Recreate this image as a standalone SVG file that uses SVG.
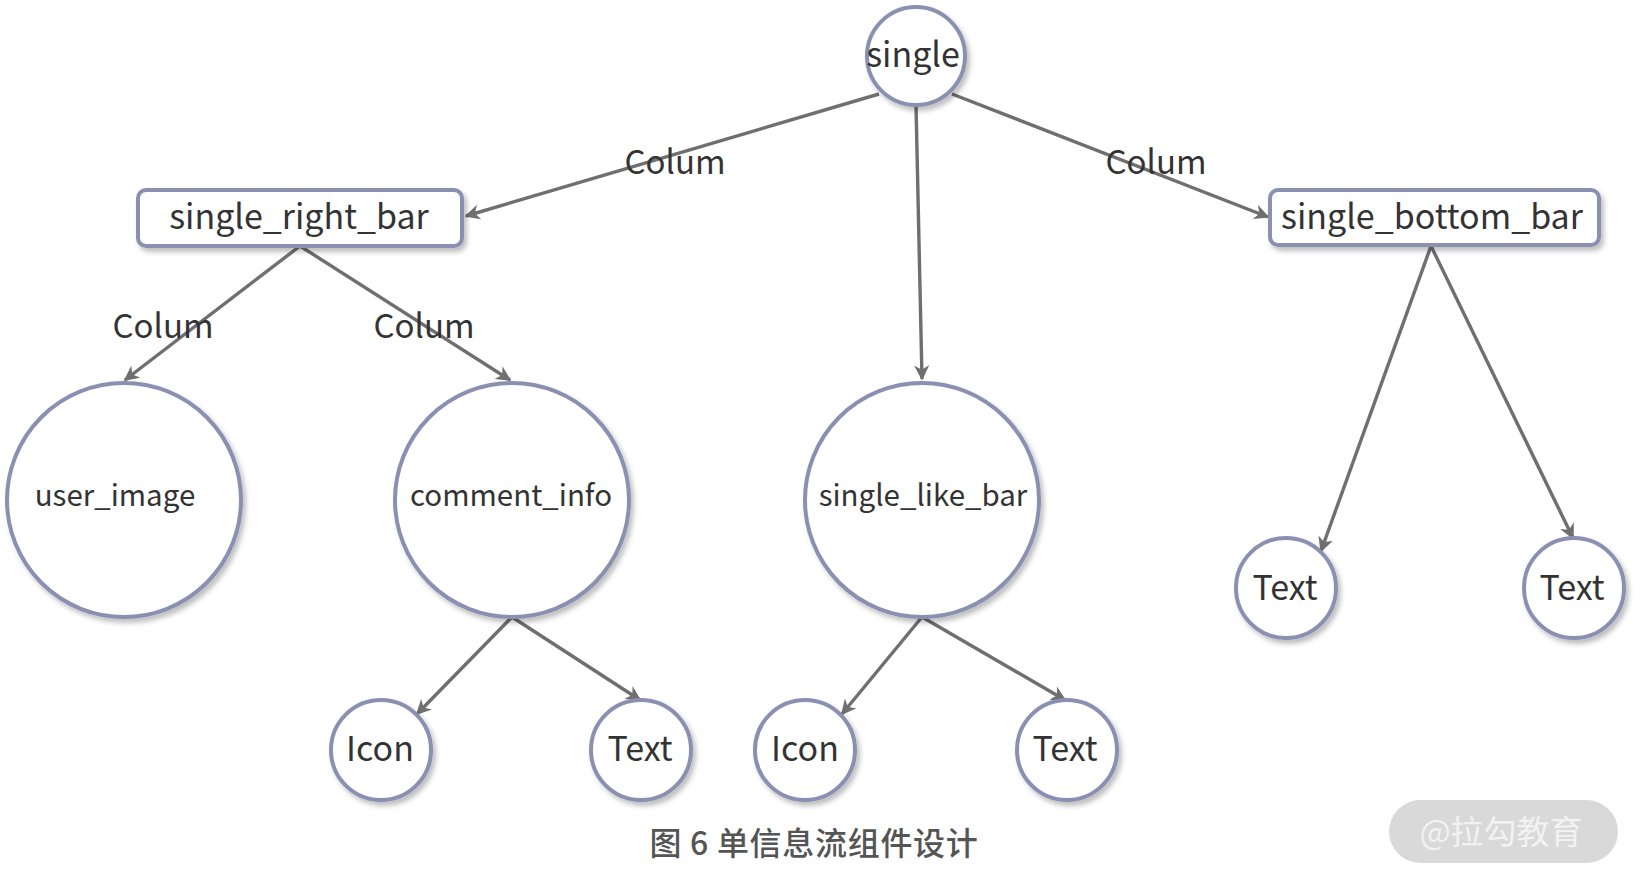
<svg xmlns="http://www.w3.org/2000/svg" width="1640" height="886" viewBox="0 0 1640 886">
<defs>
<style>
.n{fill:#fff;stroke:#8b90b2;stroke-width:4;filter:url(#sh)}
.t{font-family:"Noto Sans CJK SC","Noto Sans",sans-serif;fill:#333;text-anchor:middle;dominant-baseline:central}
.big{font-size:34px}
.mid{font-size:29.5px}
.lbl{font-family:"Noto Sans CJK SC","Noto Sans",sans-serif;fill:#333;font-size:33px;text-anchor:middle}
.e{stroke:#6f6f6f;stroke-width:3.4;fill:none;marker-end:url(#ar)}
</style>
<filter id="sh" x="-20%" y="-20%" width="150%" height="150%">
<feDropShadow dx="3" dy="4" stdDeviation="2.5" flood-color="#000" flood-opacity="0.25"/>
</filter>
<marker id="ar" viewBox="0 0 10 10" refX="9" refY="5" markerWidth="4.5" markerHeight="4.5" orient="auto" markerUnits="strokeWidth">
<path d="M0,0 L10,5 L0,10 L3,5 z" fill="#6f6f6f"/>
</marker>
</defs>
<rect width="1640" height="886" fill="#fff"/>
<g id="connectors">
<line class="e" x1="879" y1="94" x2="466" y2="216"/>
<line class="e" x1="952" y1="94" x2="1268" y2="217"/>
<line class="e" x1="916" y1="105" x2="922" y2="379"/>
<line class="e" x1="300" y1="246" x2="125" y2="380"/>
<line class="e" x1="300" y1="246" x2="510" y2="380"/>
<line class="e" x1="512" y1="617" x2="417" y2="714"/>
<line class="e" x1="512" y1="617" x2="640" y2="700"/>
<line class="e" x1="922" y1="617" x2="842" y2="714"/>
<line class="e" x1="922" y1="617" x2="1065" y2="700"/>
<line class="e" x1="1431" y1="246" x2="1321" y2="551"/>
<line class="e" x1="1431" y1="246" x2="1573" y2="538"/>
<text class="lbl" x="675" y="174">Colum</text>
<text class="lbl" x="1156" y="174">Colum</text>
<text class="lbl" x="163" y="338">Colum</text>
<text class="lbl" x="424" y="338">Colum</text>
</g>
<g id="single"><circle class="n" cx="916" cy="56" r="49"/><text class="t big" x="913" y="52">single</text></g>
<g id="single_right_bar"><rect class="n" x="138" y="190" width="324" height="56" rx="8"/><text class="t big" x="299" y="214">single_right_bar</text></g>
<g id="single_bottom_bar"><rect class="n" x="1270" y="190" width="329" height="55" rx="8"/><text class="t big" x="1432" y="214">single_bottom_bar</text></g>
<g id="user_image"><circle class="n" cx="124" cy="500" r="117"/><text class="t mid" x="115" y="493">user_image</text></g>
<g id="comment_info"><circle class="n" cx="512" cy="500" r="117"/><text class="t mid" x="511" y="493">comment_info</text></g>
<g id="single_like_bar"><circle class="n" cx="922" cy="500" r="117"/><text class="t mid" x="923" y="493">single_like_bar</text></g>
<g id="icon1"><circle class="n" cx="381" cy="750" r="50"/><text class="t big" x="380" y="746">Icon</text></g>
<g id="text1"><circle class="n" cx="641" cy="750" r="50"/><text class="t big" x="640" y="746">Text</text></g>
<g id="icon2"><circle class="n" cx="805" cy="750" r="50"/><text class="t big" x="805" y="746">Icon</text></g>
<g id="text2"><circle class="n" cx="1067" cy="750" r="50"/><text class="t big" x="1065" y="746">Text</text></g>
<g id="text3"><circle class="n" cx="1286" cy="588" r="50"/><text class="t big" x="1285" y="585">Text</text></g>
<g id="text4"><circle class="n" cx="1574" cy="588" r="50"/><text class="t big" x="1572" y="585">Text</text></g>
<text x="814" y="855" font-family="'Noto Sans CJK SC',sans-serif" font-size="32" font-weight="500" letter-spacing="0.7" fill="#555" text-anchor="middle">图 6 单信息流组件设计</text>
<g id="watermark"><rect x="1389" y="800" width="229" height="63" rx="31.5" fill="#d9d9d9"/><text x="1501" y="844" font-family="'Noto Sans CJK SC',sans-serif" font-size="33" fill="#f2f2f2" text-anchor="middle">@拉勾教育</text></g>
</svg>
